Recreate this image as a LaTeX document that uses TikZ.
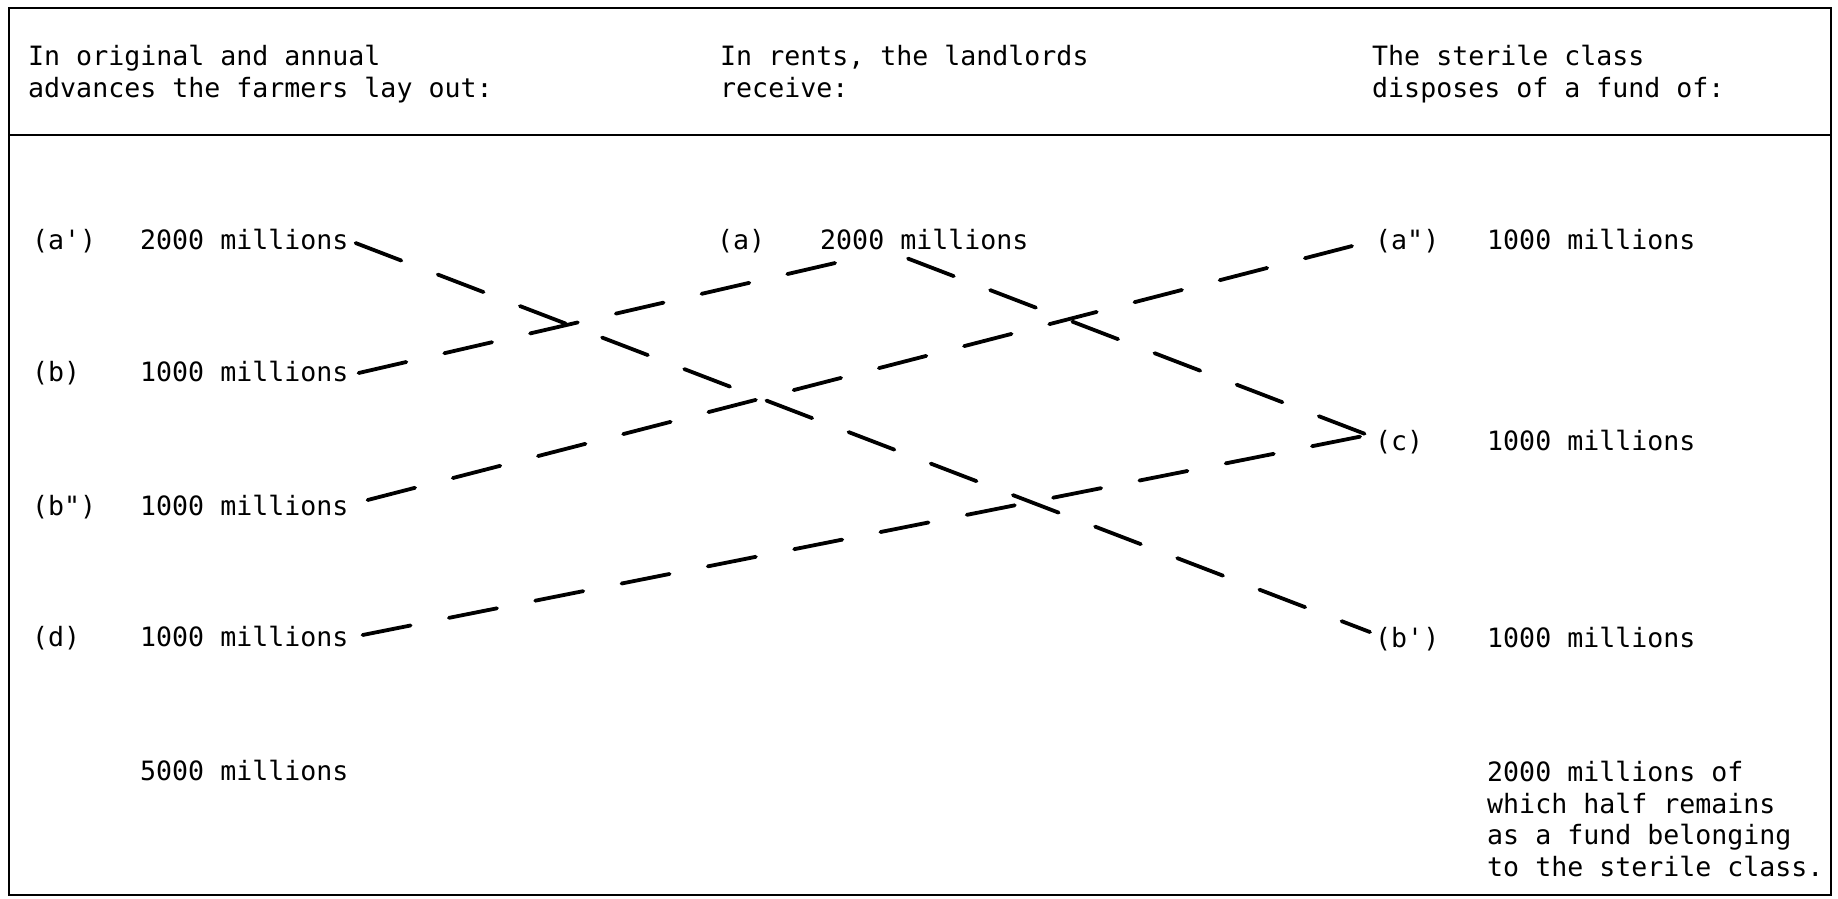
\documentclass[tikz,border=0pt]{standalone}
\usepackage{fontspec}
\setmonofont{DejaVu Sans Mono}
\usetikzlibrary{calc}
\begin{document}
\begin{tikzpicture}[x=1pt,y=-1pt,
  txt/.style={font=\ttfamily\fontsize{26.6}{31}\selectfont, inner sep=0pt, anchor=base west},
  blk/.style={font=\ttfamily\fontsize{26.6}{31.5}\selectfont, inner sep=0pt, anchor=north west, align=left},
  frameline/.style={line width=2.6pt},
  flow/.style={line width=3.8pt, line cap=round, dash pattern=on 49pt off 39pt}]
\useasboundingbox (0,0) rectangle (1838,898);
% frame
\draw[frameline] (9,8) rectangle (1831,895);
\draw[frameline] (9,135) -- (1831,135);
% headers
\node[blk] (h1) at (28,45) {In original and annual\\advances the farmers lay out:};
\node[blk] (h2) at (720,45) {In rents, the landlords\\receive:};
\node[blk] (h3) at (1372,45) {The sterile class\\disposes of a fund of:};
% left column
\node[txt] (lA)  at (32,249) {(a')};
\node[txt] (vA)  at (140,249) {2000 millions};
\node[txt] (lB)  at (32,381) {(b)};
\node[txt] (vB)  at (140,381) {1000 millions};
\node[txt] (lBB) at (32,515) {(b")};
\node[txt] (vBB) at (140,515) {1000 millions};
\node[txt] (lD)  at (32,646) {(d)};
\node[txt] (vD)  at (140,646) {1000 millions};
\node[txt] (tot) at (140,780) {5000 millions};
% middle column
\node[txt] (la) at (717,249) {(a)};
\node[txt] (va) at (820,249) {2000 millions};
% right column
\node[txt] (raa) at (1375,249) {(a")};
\node[txt] (rv1) at (1487,249) {1000 millions};
\node[txt] (rc)  at (1375,450) {(c)};
\node[txt] (rv2) at (1487,450) {1000 millions};
\node[txt] (rbp) at (1375,647) {(b')};
\node[txt] (rv3) at (1487,647) {1000 millions};
\node[blk] (rest) at (1487,761) {2000 millions of\\which half remains\\as a fund belonging\\to the sterile class.};
% connectors
\draw[flow] ($(vA.east)+(7,4)$) -- ($(rbp.west)+(-5,-6.6)$);
\draw[flow] ($(vB.east)+(10,2)$) -- ($(va.south west)+(30,10)$);
\draw[flow] ($(va.south west)+(88,9)$) -- ($(rc.west)+(-7,-6.6)$);
\draw[flow] ($(vBB.east)+(19,-5)$) -- ($(raa.west)+(-23,5.4)$);
\draw[flow] ($(vD.east)+(14,-1)$) -- ($(rc.west)+(-7,-6.6)$);
\end{tikzpicture}
\end{document}
